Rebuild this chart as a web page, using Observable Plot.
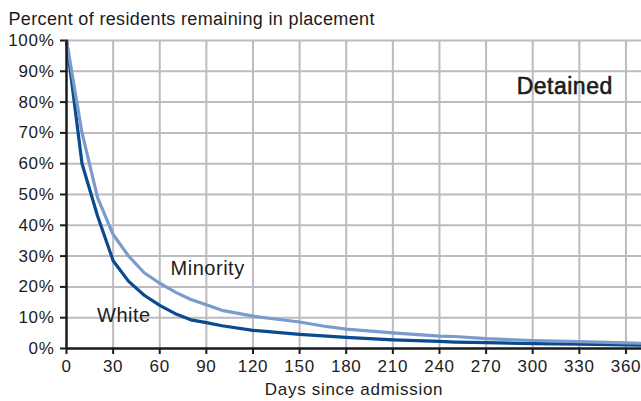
<!DOCTYPE html>
<html><head><meta charset="utf-8">
<script src="https://cdn.jsdelivr.net/npm/d3@7"></script>
<script src="https://cdn.jsdelivr.net/npm/@observablehq/plot@0.6"></script>
<style>body{margin:0;background:#fff;}</style>
</head><body><div id="chart"></div>
<script>
const days        = [0, 10, 20, 30, 40, 50, 60, 70, 80, 90, 100, 120, 150, 165, 180, 210, 240, 250, 270, 300, 330, 360, 370];
const whitePct    = [100, 60, 43, 28.5, 21.8, 17.3, 14, 11.3, 9.3, 8.4, 7.4, 5.9, 4.6, 4.1, 3.6, 2.8, 2.3, 2.1, 1.9, 1.6, 1.4, 1.2, 1.1];
const minorityPct = [100, 70, 49, 37, 30, 24.6, 21.2, 18.3, 15.9, 14.2, 12.4, 10.5, 8.6, 7.3, 6.3, 5.1, 4.0, 3.9, 3.2, 2.6, 2.2, 1.8, 1.7];
const seriesNames = ["White", "Minority"];
const seriesColors = ["#0a4a8e", "#7b9bcb"];
const xTicks = [0, 30, 60, 90, 120, 150, 180, 210, 240, 270, 300, 330, 360];
const yTicks = [0, 10, 20, 30, 40, 50, 60, 70, 80, 90, 100];
const title = "Percent of residents remaining in placement";
const xTitle = "Days since admission";
const panelLabel = "Detained";
const seriesLabels = [
  {text: "Minority", day: 67, pct: 28.6},
  {text: "White", day: 19.7, pct: 13.2}
];

const white = days.map((d, i) => ({day: d, pct: whitePct[i]}));
const minority = days.map((d, i) => ({day: d, pct: minorityPct[i]}));
const font = "'Liberation Sans', Arial, Helvetica, sans-serif";
const ink = "#1c1c1c";

const chart = Plot.plot({
  width: 641, height: 401,
  marginLeft: 66, marginRight: 0, marginTop: 40, marginBottom: 53,
  style: {fontFamily: font, fontSize: "17px", color: ink, background: "#fff", letterSpacing: "0.7px"},
  x: {domain: [0, 370]},
  y: {domain: [0, 100]},
  marks: [
    Plot.gridX(xTicks.filter(t => t > 0), {stroke: "#bcbcc0", strokeOpacity: 1, strokeWidth: 2}),
    Plot.gridY(yTicks.filter(t => t > 0), {stroke: "#bcbcc0", strokeOpacity: 1, strokeWidth: 2}),
    Plot.axisX(xTicks, {tickSize: 6, tickPadding: 5, label: null, tickFormat: d => String(d), stroke: "#1a1a1a", strokeWidth: 2, fill: ink}),
    Plot.axisY(yTicks, {tickSize: 6, tickPadding: 6, label: null, tickFormat: d => d + "%", stroke: "#1a1a1a", strokeWidth: 2, fill: ink}),
    Plot.line(white, {x: "day", y: "pct", stroke: seriesColors[0], strokeWidth: 3.2}),
    Plot.line(minority, {x: "day", y: "pct", stroke: seriesColors[1], strokeWidth: 3.2}),
    Plot.ruleY([0], {stroke: "#1a1a1a", strokeWidth: 2.5}),
    Plot.ruleX([0], {stroke: "#1a1a1a", strokeWidth: 2.5}),
    Plot.text(seriesLabels, {x: "day", y: "pct", text: "text", textAnchor: "start", lineAnchor: "top", fontSize: 20, fill: ink, className: "lab-series"}),
    Plot.text([panelLabel], {x: 351.5, y: 87.9, text: d => d, textAnchor: "end", lineAnchor: "top", fontSize: 23, fill: ink, stroke: ink, strokeWidth: 0.6, className: "lab-panel"}),
    Plot.text([title], {frameAnchor: "top-left", dx: -58, dy: -28, text: d => d, textAnchor: "start", lineAnchor: "top", fontSize: 18, fill: ink, className: "lab-title"}),
    Plot.text([xTitle], {frameAnchor: "bottom", dy: 34, text: d => d, lineAnchor: "top", fontSize: 17, fill: ink})
  ]
});
const spacing = {"lab-series": "0.5px", "lab-panel": "0.5px", "lab-title": "0.35px"};
for (const [cls, ls] of Object.entries(spacing)) {
  d3.select(chart).selectAll("." + cls).style("letter-spacing", ls);
}
document.getElementById("chart").appendChild(chart);
</script>
</body></html>
